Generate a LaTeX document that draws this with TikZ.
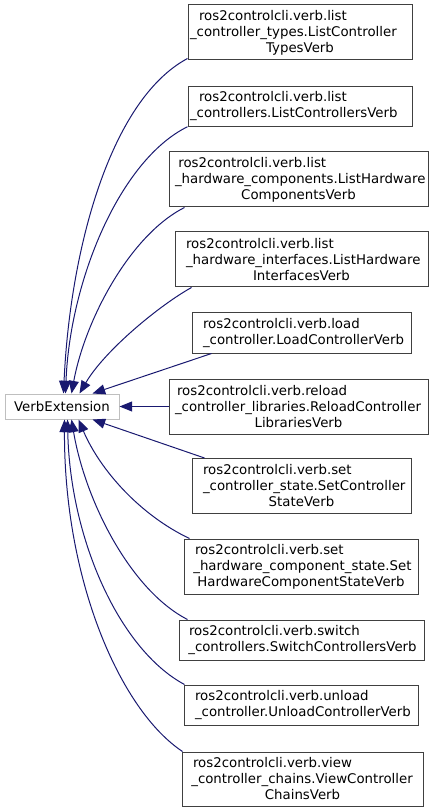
\documentclass[tikz,border=0pt]{standalone}
\usepackage{fontspec}
\setmainfont{DejaVu Sans}
\usetikzlibrary{arrows.meta,calc}
\hyphenpenalty=10000
\exhyphenpenalty=10000
\definecolor{edgecol}{HTML}{191970}
\definecolor{boxcol}{HTML}{404040}
\definecolor{basecol}{HTML}{BFBFBF}
\tikzset{
  cls/.style={draw=boxcol, line width=0.75pt, fill=white, inner sep=0pt, align=left,
    font=\fontsize{10pt}{12pt}\selectfont},
  basebox/.style={draw=basecol, line width=0.75pt, fill=white, inner sep=0pt,
    minimum width=85.5pt, minimum height=18.75pt, font=\fontsize{10pt}{12pt}\selectfont},
  inh/.style={draw=edgecol, line width=0.75pt, -{Triangle[length=9.5pt,width=7.5pt]}}
}
\begin{document}
\begin{tikzpicture}[x=0.75pt,y=-0.75pt]
\useasboundingbox (0,0) rectangle (440,812);

\node[basebox] (base) at (62,406.5) {VerbExtension};

\node[cls, text width=168pt, minimum height=41.25pt] (c1) at (300,32.5)
  {\hspace*{8.25pt}ros2controlcli.verb.list\\\hspace*{1.5pt}\_controller\_types.ListController\\\makebox[168pt]{TypesVerb}};
\node[cls, text width=168pt, minimum height=29.6pt] (c2) at (300,106.5)
  {\hspace*{8.25pt}ros2controlcli.verb.list\\\hspace*{1.5pt}\_controllers.ListControllersVerb};
\node[cls, text width=194.25pt, minimum height=41.25pt] (c3) at (298.5,179.5)
  {\hspace*{7pt}ros2controlcli.verb.list\\\hspace*{4.5pt}\_hardware\_components.ListHardware\\\makebox[194.25pt]{ComponentsVerb}};
\node[cls, text width=189.75pt, minimum height=41.25pt] (c4) at (301.5,259.5)
  {\hspace*{8.25pt}ros2controlcli.verb.list\\\hspace*{8.25pt}\_hardware\_interfaces.ListHardware\\\makebox[189.75pt]{InterfacesVerb}};
\node[cls, text width=164.25pt, minimum height=30pt] (c5) at (301.5,333)
  {\hspace*{8.25pt}ros2controlcli.verb.load\\\hspace*{8.25pt}\_controller.LoadControllerVerb};
\node[cls, text width=194.25pt, minimum height=41.25pt] (c6) at (298.5,406.5)
  {\hspace*{6pt}ros2controlcli.verb.reload\\\hspace*{4.5pt}\_controller\_libraries.ReloadController\\\makebox[194.25pt]{LibrariesVerb}};
\node[cls, text width=164.25pt, minimum height=41.25pt] (c7) at (301.5,486)
  {\hspace*{8.25pt}ros2controlcli.verb.set\\\hspace*{8.25pt}\_controller\_state.SetController\\\makebox[164.25pt]{StateVerb}};
\node[cls, text width=175.5pt, minimum height=41.25pt] (c8) at (301,566.5)
  {\hspace*{8.25pt}ros2controlcli.verb.set\\\hspace*{7pt}\_hardware\_component\_state.Set\\\makebox[175.5pt]{HardwareComponentStateVerb}};
\node[cls, text width=183.75pt, minimum height=30pt] (c9) at (301.5,640)
  {\hspace*{7.5pt}ros2controlcli.verb.switch\\\hspace*{7pt}\_controllers.SwitchControllersVerb};
\node[cls, text width=175.5pt, minimum height=30pt] (c10) at (301,705)
  {\hspace*{8.25pt}ros2controlcli.verb.unload\\\hspace*{8.25pt}\_controller.UnloadControllerVerb};
\node[cls, text width=180.75pt, minimum height=40.5pt] (c11) at (302.5,779)
  {\hspace*{8.25pt}ros2controlcli.verb.view\\\hspace*{7pt}\_controller\_chains.ViewController\\\makebox[180.75pt]{ChainsVerb}};

\draw[inh] ($(c1.south west)+(0,-2)$) .. controls (110,100) and (70,250) .. ($(base.north west)+(59,0)$);
\draw[inh] (c2.south west) .. controls (120,160) and (70,280) .. ($(base.north west)+(61,0)$);
\draw[inh] ($(c3.south west)+(16,0)$) .. controls (130,235) and (85,320) .. ($(base.north west)+(67,0)$);
\draw[inh] ($(c4.south west)+(17,0)$) .. controls (160,305) and (105,350) .. ($(base.north west)+(75,0)$);
\draw[inh] ($(c5.south west)+(20,0)$) -- ($(base.north west)+(88,0)$);
\draw[inh] (c6.west) -- (base.east);
\draw[inh] ($(c7.north west)+(13,0)$) -- ($(base.south west)+(88,0)$);
\draw[inh] ($(c8.north west)+(6,0)$) .. controls (140,515) and (100,470) .. ($(base.south west)+(74,0)$);
\draw[inh] ($(c9.north west)+(9,0)$) .. controls (130,590) and (85,500) .. ($(base.south west)+(67,0)$);
\draw[inh] ($(c10.north west)+(1,0)$) .. controls (120,650) and (70,540) .. ($(base.south west)+(63,0)$);
\draw[inh] ($(c11.north west)+(1,0)$) .. controls (120,710) and (64,580) .. ($(base.south west)+(60,0)$);
\end{tikzpicture}
\end{document}
